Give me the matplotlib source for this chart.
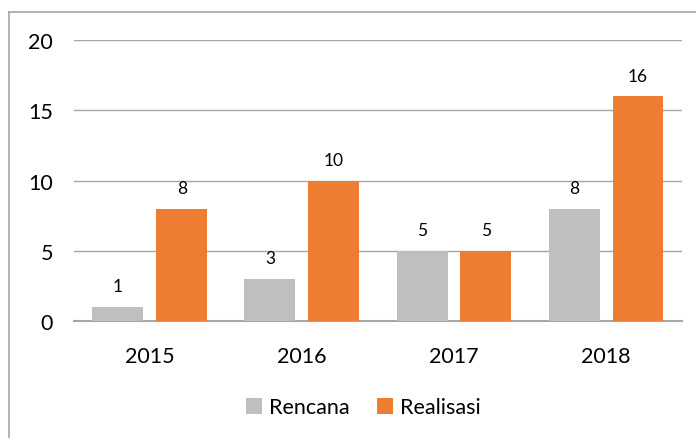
import matplotlib
matplotlib.use("Agg")
import matplotlib.pyplot as plt
from matplotlib.lines import Line2D
import numpy as np

years = ["2015", "2016", "2017", "2018"]
rencana = [1, 3, 5, 8]
realisasi = [8, 10, 5, 16]
series_names = ["Rencana", "Realisasi"]

GRAY = "#BFBFBF"
ORANGE = "#ED7D31"

plt.rcParams["font.family"] = ["Lato", "DejaVu Sans"]

fig = plt.figure(figsize=(6.96, 4.39), dpi=100)
ax = fig.add_axes([0.106, 0.2665, 0.874, 0.640])

x = np.arange(len(years))
w = 0.335
b1 = ax.bar(x - 0.21, rencana, w, color=GRAY, label=series_names[0], zorder=3)
b2 = ax.bar(x + 0.21, realisasi, w, color=ORANGE, label=series_names[1], zorder=3)

for bars, vals in ((b1, rencana), (b2, realisasi)):
    for r, v in zip(bars, vals):
        ax.annotate(str(v), (r.get_x() + r.get_width() / 2, v),
                    xytext=(0, 9), textcoords="offset points",
                    ha="center", va="bottom", fontsize=12.5, color="#000000")

ax.set_xlim(-0.5, len(years) - 0.5)
ax.set_ylim(0, 20)
ax.set_yticks([0, 5, 10, 15, 20])
ax.set_xticks(x)
ax.set_xticklabels(years)
ax.tick_params(axis="both", length=0, labelsize=15.5, colors="#000000")
ax.tick_params(axis="y", pad=15)
ax.tick_params(axis="x", pad=18)
ax.grid(axis="y", color="#A6A6A6", linewidth=1.0, zorder=0)
for s in ("top", "right", "left"):
    ax.spines[s].set_visible(False)
ax.spines["bottom"].set_color("#A6A6A6")
ax.spines["bottom"].set_linewidth(1.5)

fig.legend(loc="center", bbox_to_anchor=(0.522, 0.07), ncol=2, frameon=False,
           fontsize=15.5, handlelength=0.75, handleheight=0.75, handletextpad=0.3,
           columnspacing=1.3)

# chart border, only top and left edges visible in the crop
fig.add_artist(Line2D([9 / 696, 1.0], [1 - 13 / 439, 1 - 13 / 439],
                      transform=fig.transFigure, color="#A6A6A6", linewidth=1.2))
fig.add_artist(Line2D([9 / 696, 9 / 696], [0.0, 1 - 13 / 439],
                      transform=fig.transFigure, color="#A6A6A6", linewidth=1.2))

fig.savefig("out.png", dpi=100)
